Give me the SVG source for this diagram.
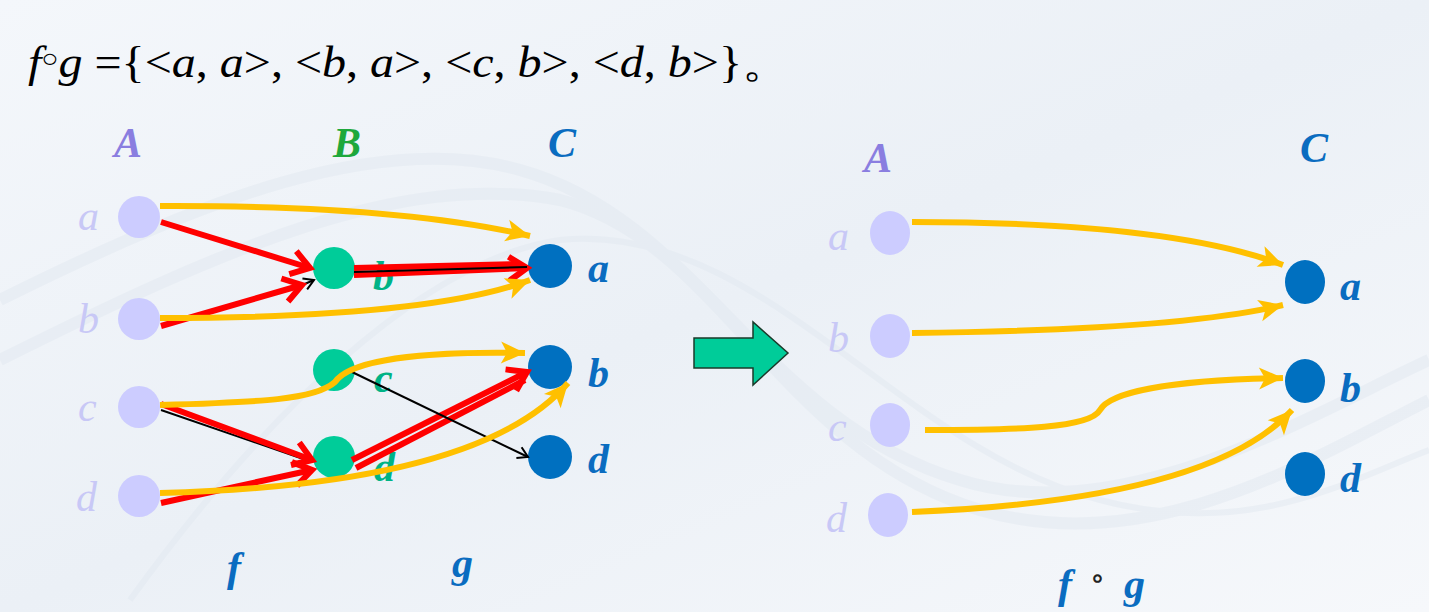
<svg xmlns="http://www.w3.org/2000/svg" width="1429" height="612" viewBox="0 0 1429 612">
<style>
text{font-family:"Liberation Serif","Times New Roman","DejaVu Serif",serif}
.lbl{font-style:italic;font-weight:bold;font-size:42px}
.aL{fill:#c8c8f6;font-weight:normal}
.bL{fill:#00b386}
.cL{fill:#0a6cc0}
.hA{fill:#8a7ee0}
.hB{fill:#1ea83c}
.hC{fill:#0a6cc0}
.nA{fill:#ccccff}
.nB{fill:#00cc99}
.nC{fill:#0070c0}
.y{fill:none;stroke:#ffc000;stroke-width:6;marker-end:url(#ya)}
.r{fill:none;stroke:#ff0000;stroke-width:6;marker-end:url(#ra)}
.r2{fill:none;stroke:#ff0000;stroke-width:6}
.k{fill:none;stroke:#000;stroke-width:2;marker-end:url(#ka)}
.k2{fill:none;stroke:#000;stroke-width:2}
.title{font-size:44px;fill:#000}
</style>
<defs>
<linearGradient id="bg" x1="0" y1="0" x2="1" y2="1">
<stop offset="0" stop-color="#f4f7fb"/>
<stop offset="0.5" stop-color="#ebf0f6"/>
<stop offset="1" stop-color="#f6f8fb"/>
</linearGradient>
<marker id="ya" markerUnits="userSpaceOnUse" markerWidth="30" markerHeight="30" viewBox="0 0 30 30" refX="26" refY="15" orient="auto">
<path d="M2,4 L26,15 L2,26 L8,15 Z" fill="#ffc000"/>
</marker>
<marker id="ra" markerUnits="userSpaceOnUse" markerWidth="34" markerHeight="34" viewBox="0 0 34 34" refX="27" refY="17" orient="auto">
<path d="M9,5 L27,17 L9,29" fill="none" stroke="#ff0000" stroke-width="6"/>
</marker>
<marker id="ka" markerUnits="userSpaceOnUse" markerWidth="20" markerHeight="20" viewBox="0 0 20 20" refX="16" refY="10" orient="auto">
<path d="M6,4 L16,10 L6,16" fill="none" stroke="#000" stroke-width="2"/>
</marker>
</defs>
<rect width="1429" height="612" fill="url(#bg)"/>
<g id="background" fill="none" stroke="#e2e9f1" stroke-width="12" opacity="0.5">
<path d="M0,300 C200,200 380,130 520,170 C700,220 760,420 960,480 C1120,530 1300,420 1429,360"/>
<path d="M0,360 C220,250 400,170 560,200 C720,240 780,450 980,510 C1150,560 1310,460 1429,400"/>
<path d="M130,600 C260,420 420,260 560,240 C760,220 900,450 1100,500 C1250,540 1350,480 1429,450" stroke-width="6"/>
</g>
<g id="title">
<text class="title" x="28" y="77" textLength="762" lengthAdjust="spacingAndGlyphs"><tspan font-style="italic">f</tspan><tspan font-size="26" dy="-10">○</tspan><tspan dy="10" font-style="italic">g</tspan> ={&lt;<tspan font-style="italic">a</tspan>, <tspan font-style="italic">a</tspan>&gt;, &lt;<tspan font-style="italic">b</tspan>, <tspan font-style="italic">a</tspan>&gt;, &lt;<tspan font-style="italic">c</tspan>, <tspan font-style="italic">b</tspan>&gt;, &lt;<tspan font-style="italic">d</tspan>, <tspan font-style="italic">b</tspan>&gt;}。</text>
</g>
<g id="headers">
<text class="lbl hA" x="114" y="157">A</text>
<text class="lbl hB" x="333" y="157">B</text>
<text class="lbl hC" x="548" y="157">C</text>
<text class="lbl hA" x="864" y="172">A</text>
<text class="lbl hC" x="1300" y="162">C</text>
<text class="lbl cL" x="227" y="581">f</text>
<text class="lbl cL" x="452" y="577">g</text>
<text class="lbl cL" x="1058" y="598">f</text>
<text x="1090" y="588" font-size="30" fill="#222">∘</text>
<text class="lbl cL" x="1124" y="598">g</text>
</g>
<g id="left-A">
<g id="LA-a"><circle class="nA" cx="139" cy="217" r="21"/><text class="lbl aL" x="78" y="230">a</text></g>
<g id="LA-b"><circle class="nA" cx="139" cy="319" r="21"/><text class="lbl aL" x="78" y="333">b</text></g>
<g id="LA-c"><circle class="nA" cx="139" cy="407" r="21"/><text class="lbl aL" x="78" y="421">c</text></g>
<g id="LA-d"><circle class="nA" cx="139" cy="496" r="21"/><text class="lbl aL" x="76" y="511">d</text></g>
</g>
<g id="left-B">
<g id="LB-b"><circle class="nB" cx="334" cy="268" r="21"/><text class="lbl bL" x="373" y="290">b</text></g>
<g id="LB-c"><circle class="nB" cx="334" cy="370" r="21"/><text class="lbl bL" x="374" y="392">c</text></g>
<g id="LB-d"><circle class="nB" cx="334" cy="457" r="21"/><text class="lbl bL" x="374" y="481">d</text></g>
</g>
<g id="left-C">
<g id="LC-a"><circle class="nC" cx="550" cy="266" r="22"/><text class="lbl cL" x="588" y="282">a</text></g>
<g id="LC-b"><circle class="nC" cx="550" cy="367" r="22"/><text class="lbl cL" x="588" y="387">b</text></g>
<g id="LC-d"><circle class="nC" cx="550" cy="457" r="22"/><text class="lbl cL" x="588" y="473">d</text></g>
</g>
<g id="connectors-left">
<path class="r" d="M161,222 L310,268"/>
<path class="k" d="M300,286 L314,280"/>
<path class="r" d="M161,326 L302,285"/>
<path class="r2" d="M354,268 L520,264"/>
<path class="r" d="M354,275 L527,268"/>
<path class="k2" d="M354,272 L527,267"/>
<path class="k2" d="M161,410 L312,462"/>
<path class="r" d="M161,404 L312,460"/>
<path class="r" d="M161,503 L312,470"/>
<path class="r" d="M352,460 L527,372"/>
<path class="r2" d="M356,468 L525,380"/>
<path class="k" d="M352,372 L528,457"/>
<path class="y" d="M160,206 Q400,205 530,236"/>
<path class="y" d="M160,318 Q430,318 530,280"/>
<path class="y" d="M160,405 C260,402 315,400 335,382 C350,360 420,351 525,353"/>
<path class="y" d="M160,493 Q480,485 568,383"/>
</g>
<g id="big-arrow">
<path d="M694,338 L753,338 L753,322 L788,353 L753,385 L753,368 L694,368 Z" fill="#00cc99" stroke="#1a3a2a" stroke-width="1.5"/>
</g>
<g id="right-A">
<g id="RA-a"><ellipse class="nA" cx="890" cy="233" rx="20" ry="22"/><text class="lbl aL" x="828" y="250">a</text></g>
<g id="RA-b"><ellipse class="nA" cx="890" cy="336" rx="20" ry="22"/><text class="lbl aL" x="828" y="352">b</text></g>
<g id="RA-c"><ellipse class="nA" cx="890" cy="425" rx="20" ry="22"/><text class="lbl aL" x="828" y="441">c</text></g>
<g id="RA-d"><ellipse class="nA" cx="888" cy="515" rx="20" ry="22"/><text class="lbl aL" x="826" y="532">d</text></g>
</g>
<g id="right-C">
<g id="RC-a"><ellipse class="nC" cx="1305" cy="282" rx="20" ry="22"/><text class="lbl cL" x="1340" y="300">a</text></g>
<g id="RC-b"><ellipse class="nC" cx="1305" cy="381" rx="20" ry="22"/><text class="lbl cL" x="1340" y="402">b</text></g>
<g id="RC-d"><ellipse class="nC" cx="1305" cy="474" rx="20" ry="22"/><text class="lbl cL" x="1340" y="492">d</text></g>
</g>
<g id="connectors-right">
<path class="y" d="M912,222 Q1170,222 1283,265"/>
<path class="y" d="M912,333 Q1180,330 1283,305"/>
<path class="y" d="M925,430 C1020,430 1090,428 1100,410 C1110,392 1170,380 1283,378"/>
<path class="y" d="M912,512 Q1210,500 1292,410"/>
</g>
</svg>
